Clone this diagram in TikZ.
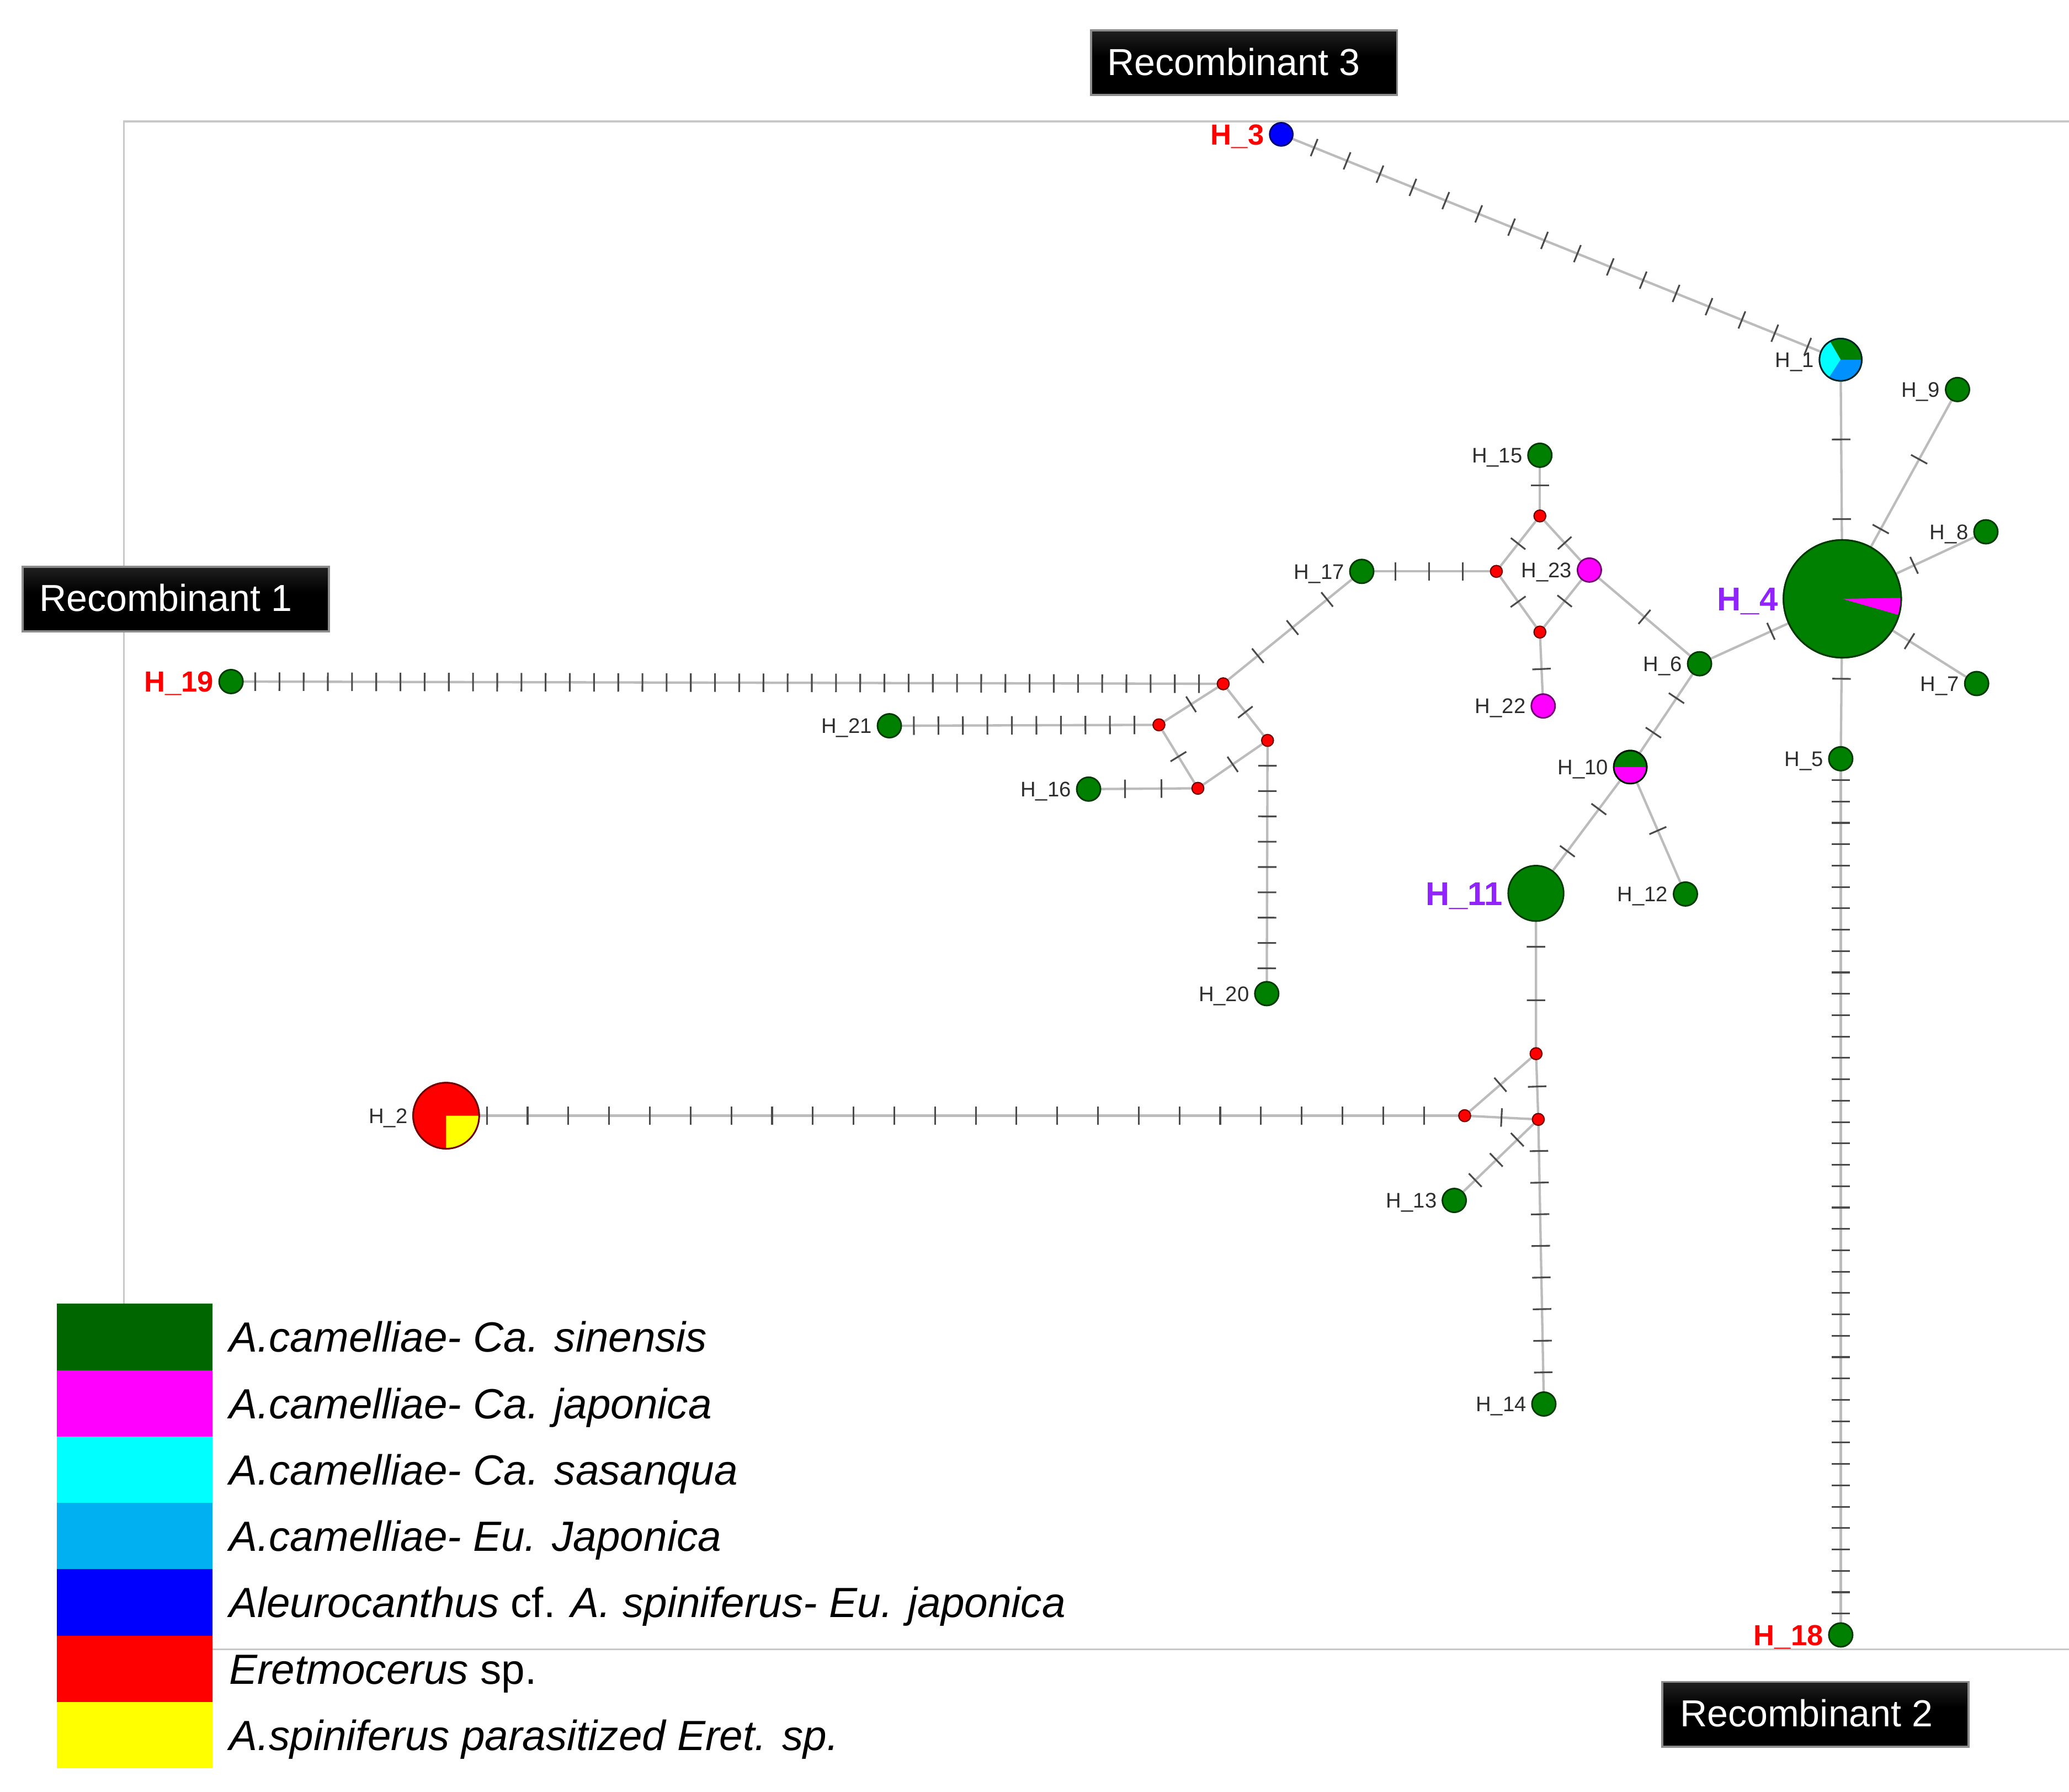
\documentclass[tikz,border=0pt]{standalone}
\usepackage{fontspec}
\setmainfont{Liberation Sans}
\usetikzlibrary{calc}
\pgfdeclarelayer{background}
\pgfsetlayers{background,main}
\definecolor{hgreen}{RGB}{0,128,0}
\definecolor{lgreen}{RGB}{0,102,0}
\definecolor{hmag}{RGB}{255,0,255}
\definecolor{hcyan}{RGB}{0,255,255}
\definecolor{hlblue}{RGB}{0,176,240}
\definecolor{hpblue}{RGB}{0,145,255}
\definecolor{hblue}{RGB}{0,0,255}
\definecolor{hred}{RGB}{255,0,0}
\definecolor{hyel}{RGB}{255,255,0}
\definecolor{hpurp}{RGB}{145,35,255}
\definecolor{edgegray}{RGB}{188,188,188}
\definecolor{tickgray}{RGB}{75,75,75}
\definecolor{framegray}{RGB}{200,200,200}
\pgfdeclareverticalshading{recshade}{100bp}{color(0bp)=(black); color(55bp)=(black); color(100bp)=(black!72)}
\newcommand\mutedge[3]{%
  \draw[edge] (#1.center) -- (#2.center);
  \ifnum#3>0
    \foreach \k in {1,...,#3}{%
      \path ($(#1.center)!{\k/(#3+1)}!(#2.center)$) coordinate (mp);
      \draw[tick] ($(mp)!7pt!90:(#2.center)$) -- ($(mp)!7pt!-90:(#2.center)$);
    }%
  \fi}
\begin{document}
\begin{tikzpicture}[x=1pt,y=-1pt,
  hap/.style={circle, draw=#1!45!black, fill=#1, line width=1.2pt, inner sep=0pt, minimum size=18pt},
  mv/.style={circle, draw=hred!45!black, fill=hred, line width=0.9pt, inner sep=0pt, minimum size=9pt},
  lab/.style={font=\fontsize{16}{19}\selectfont, text=black!82, inner sep=0pt, text height=11.5pt, text depth=0pt},
  redlab/.style={font=\fontsize{22}{26}\selectfont\bfseries, text=hred, inner sep=0pt, text height=15.8pt, text depth=0pt},
  purplab/.style={font=\fontsize{25}{29}\selectfont\bfseries, text=hpurp, inner sep=0pt, text height=18pt, text depth=0pt},
  label distance=3.5pt,
  edge/.style={draw=edgegray, line width=1.8pt},
  tick/.style={draw=tickgray, line width=1.3pt},
  frame/.style={draw=framegray, line width=1.4pt},
  recbox/.style={draw=black!45, line width=1.6pt, shade, shading=recshade, minimum width=232pt, minimum height=49pt, inner sep=0pt, anchor=north west},
  rectext/.style={text=white, font=\fontsize{28.5}{32}\selectfont, inner sep=0pt, anchor=west, text height=20.5pt, text depth=0pt},
  legbox/.style={minimum width=118pt, minimum height=50.3pt, inner sep=0pt, draw=none},
  legtext/.style={font=\fontsize{32}{36}\selectfont\itshape, inner sep=0pt, anchor=west, text height=23pt, text depth=0pt}
]
\useasboundingbox (0,0) rectangle (1568,1358);
\begin{pgfonlayer}{background}
\fill[white] (0,0) rectangle (1568,1358);
\end{pgfonlayer}
\draw[frame] (94,988) -- (94,92) -- (1568,92);
\draw[frame] (161,1250) -- (1568,1250);

% haplotypes
\node[hap=hblue, minimum size=17.5pt, label={[redlab]left:H\_3}] (H3) at (971,101.8) {};
\node[hap=hgreen, minimum size=32pt, draw=black!70!teal, label={[lab]left:H\_1}] (H1) at (1394.9,272.6) {};
\node[hap=hgreen, minimum size=89.2pt, label={[purplab]left:H\_4}] (H4) at (1396.2,453.8) {};
\node[hap=hgreen, label={[lab]left:H\_9}] (H9) at (1483.5,295.2) {};
\node[hap=hgreen, label={[lab]left:H\_8}] (H8) at (1505,403) {};
\node[hap=hgreen, label={[lab]left:H\_7}] (H7) at (1498,518) {};
\node[hap=hgreen, label={[lab]left:H\_5}] (H5) at (1395,575) {};
\node[hap=hgreen, label={[redlab]left:H\_18}] (H18) at (1395,1239) {};
\node[hap=hgreen, label={[lab]left:H\_6}] (H6) at (1288,503) {};
\node[hap=hmag, label={[lab]left:H\_23}] (H23) at (1204.5,432) {};
\node[hap=hmag, label={[lab]left:H\_22}] (H22) at (1169.5,535) {};
\node[hap=hgreen, label={[lab]left:H\_15}] (H15) at (1167,345) {};
\node[hap=hgreen, label={[lab]left:H\_17}] (H17) at (1032,433) {};
\node[hap=hgreen, minimum size=25pt, label={[lab]left:H\_10}] (H10) at (1235.5,581.3) {};
\node[hap=hgreen, label={[lab]left:H\_12}] (H12) at (1277.3,677.5) {};
\node[hap=hgreen, minimum size=42pt, label={[purplab]left:H\_11}] (H11) at (1164,677) {};
\node[hap=hgreen, label={[lab]left:H\_13}] (H13) at (1102.1,909.7) {};
\node[hap=hgreen, label={[lab]left:H\_14}] (H14) at (1170,1064) {};
\node[hap=hred, minimum size=50pt, label={[lab]left:H\_2}] (H2) at (338.1,845.5) {};
\node[hap=hgreen, label={[redlab]left:H\_19}] (H19) at (175.1,516.5) {};
\node[hap=hgreen, label={[lab]left:H\_21}] (H21) at (674,550) {};
\node[hap=hgreen, label={[lab]left:H\_16}] (H16) at (825,598) {};
\node[hap=hgreen, label={[lab]left:H\_20}] (H20) at (960,753) {};

% median vectors
\node[mv] (m1) at (1167,391) {};
\node[mv] (m2) at (1134,433) {};
\node[mv] (m3) at (1167,479) {};
\node[mv] (m4) at (927,518.2) {};
\node[mv] (m5) at (878.3,549.3) {};
\node[mv] (m6) at (960.6,561.1) {};
\node[mv] (m7) at (907.8,597.4) {};
\node[mv] (m8) at (1164.1,798.5) {};
\node[mv] (m9) at (1110,845.5) {};
\node[mv] (m10) at (1165.8,848.3) {};

% pies
\fill[hgreen] (H1.center) -- +(0:16pt) arc[start angle=0,end angle=120,radius=16pt] -- cycle;
\fill[hcyan] (H1.center) -- +(120:16pt) arc[start angle=120,end angle=237,radius=16pt] -- cycle;
\fill[hpblue] (H1.center) -- +(237:16pt) arc[start angle=237,end angle=360,radius=16pt] -- cycle;
\draw[line width=1.2pt, draw=black!70!teal] (H1.center) circle[radius=16pt];
\fill[hmag] (H4.center) -- +(-16:44.6pt) arc[start angle=-16,end angle=1,radius=44.6pt] -- cycle;
\draw[line width=1.2pt, draw=hgreen!45!black] (H4.center) circle[radius=44.6pt];
\fill[hyel] (H2.center) -- +(-90:25pt) arc[start angle=-90,end angle=0,radius=25pt] -- cycle;
\draw[line width=1.2pt, draw=hred!45!black] (H2.center) circle[radius=25pt];
\fill[hmag] (H10.center) -- +(180:12.5pt) arc[start angle=180,end angle=360,radius=12.5pt] -- cycle;
\draw[line width=1.2pt, draw=black!80!hgreen] (H10.center) circle[radius=12.5pt];

% connectors with mutation ticks
\begin{pgfonlayer}{background}
\mutedge{H3}{H1}{16}
\mutedge{H1}{H4}{2}
\mutedge{H4}{H9}{2}
\mutedge{H4}{H8}{1}
\mutedge{H4}{H7}{1}
\mutedge{H4}{H5}{1}
\mutedge{H5}{H18}{40}
\mutedge{H4}{H6}{1}
\mutedge{H6}{H23}{1}
\mutedge{H6}{H10}{2}
\mutedge{H10}{H12}{1}
\mutedge{H10}{H11}{2}
\mutedge{H11}{m8}{2}
\mutedge{m8}{m10}{1}
\mutedge{m8}{m9}{1}
\mutedge{m9}{m10}{1}
\mutedge{m10}{H13}{3}
\mutedge{m10}{H14}{8}
\mutedge{H2}{m9}{24}
\mutedge{H15}{m1}{1}
\mutedge{m1}{m2}{1}
\mutedge{m1}{H23}{1}
\mutedge{m2}{m3}{1}
\mutedge{m3}{H23}{1}
\mutedge{m3}{H22}{1}
\mutedge{H17}{m2}{3}
\mutedge{m4}{H17}{3}
\mutedge{H19}{m4}{40}
\mutedge{m4}{m5}{1}
\mutedge{m4}{m6}{1}
\mutedge{m5}{m7}{1}
\mutedge{m7}{m6}{1}
\mutedge{H21}{m5}{10}
\mutedge{H16}{m7}{2}
\mutedge{m6}{H20}{9}
\end{pgfonlayer}

% recombinant boxes
\node[recbox] (R3) at (826,22.3) {};
\node[rectext] (R3t) at (839,46.7) {Recombinant 3};
\node[recbox] (R1) at (16.5,428.7) {};
\node[rectext] (R1t) at (29.5,453.1) {Recombinant 1};
\node[recbox] (R2) at (1259,1273.8) {};
\node[rectext] (R2t) at (1273,1298.2) {Recombinant 2};

% legend
\node[legbox, fill=lgreen] (L1) at (102,1013.15) {};
\node[legbox, fill=hmag] (L2) at (102,1063.45) {};
\node[legbox, fill=hcyan] (L3) at (102,1113.75) {};
\node[legbox, fill=hlblue] (L4) at (102,1164.05) {};
\node[legbox, fill=hblue] (L5) at (102,1214.35) {};
\node[legbox, fill=hred] (L6) at (102,1264.65) {};
\node[legbox, fill=hyel] (L7) at (102,1314.95) {};
\node[legtext] (T1) at (173.5,1013.15) {A.camelliae- Ca. sinensis};
\node[legtext] (T2) at (173.5,1063.45) {A.camelliae- Ca. japonica};
\node[legtext] (T3) at (173.5,1113.75) {A.camelliae- Ca. sasanqua};
\node[legtext] (T4) at (173.5,1164.05) {A.camelliae- Eu. Japonica};
\node[legtext] (T5) at (173.5,1214.35) {Aleurocanthus \textup{cf.} A. spiniferus- Eu. japonica};
\node[legtext] (T6) at (173.5,1264.65) {Eretmocerus \textup{sp.}};
\node[legtext] (T7) at (173.5,1314.95) {A.spiniferus parasitized Eret. sp.};
\end{tikzpicture}
\end{document}
